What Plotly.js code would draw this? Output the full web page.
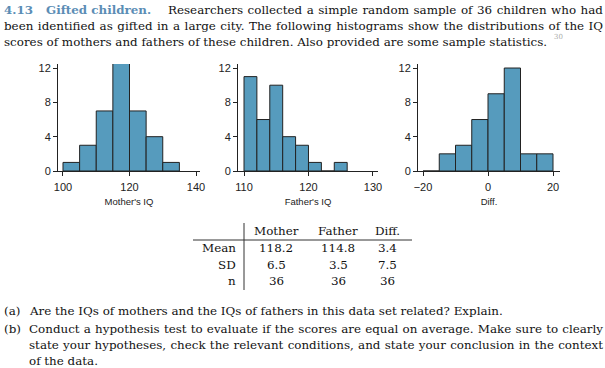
<!DOCTYPE html>
<html><head><meta charset="utf-8">
<script src="https://cdn.plot.ly/plotly-3.0.1.min.js"></script>
<style>html,body{margin:0;padding:0;background:#fff}#chart{width:605px;height:368px}</style>
</head><body><div id="chart"></div>
<script>
// ---- data ----
const motherBinCenters = [102.5, 107.5, 112.5, 117.5, 122.5, 127.5, 132.5];
const motherCounts     = [1, 3, 7, 13, 7, 4, 1];
const fatherBinCenters = [111, 113, 115, 117, 119, 121, 123, 125];
const fatherCounts     = [11, 6, 10, 4, 3, 1, 0, 1];
const diffBinCenters   = [-17.5, -12.5, -7.5, -2.5, 2.5, 7.5, 12.5, 17.5];
const diffCounts       = [0, 2, 3, 6, 9, 12, 2, 2];
const motherTicks = [100, 120, 140];
const fatherTicks = [110, 120, 130];
const diffTicks   = [-20, 0, 20];
const countTicks  = [0, 4, 8, 12];
const axisTitles  = ["Mother's IQ", "Father's IQ", "Diff."];
const tableCols   = ["Mother", "Father", "Diff."];
const tableRows   = ["Mean", "SD", "n"];
const motherStats = ["118.2", "6.5", "36"];
const fatherStats = ["114.8", "3.5", "36"];
const diffStats   = ["3.4", "7.5", "36"];
const headNum   = "4.13";
const headTitle = "Gifted children.";
const introLines = [
  "Researchers collected a simple random sample of 36 children who had",
  "been identified as gifted in a large city. The following histograms show the distributions of the IQ",
  "scores of mothers and fathers of these children. Also provided are some sample statistics."
];
const footnote = "30";
const questionA = ["(a)", "Are the IQs of mothers and the IQs of fathers in this data set related? Explain."];
const questionB = ["(b)",
  "Conduct a hypothesis test to evaluate if the scores are equal on average. Make sure to clearly",
  "state your hypotheses, check the relevant conditions, and state your conclusion in the context",
  "of the data."];

// ---- helpers ----
const W = 605, H = 368;
const px = x => x / W, py = y => 1 - y / H;
const SERIF = 'DejaVu Serif';
const SERIF_SIZE = 11.9;
const SANS = 'Liberation Sans, Arial, sans-serif';
const INK = '#222222';
const BAR = '#569BBD';

const cv = document.createElement('canvas').getContext('2d');
function measure(t, size, bold) {
  cv.font = (bold ? 'bold ' : '') + size + 'px "' + SERIF + '"';
  return cv.measureText(t).width;
}
function justified(t, target) {
  const nat = measure(t, SERIF_SIZE, false);
  const n = (t.match(/ /g) || []).length;
  const ws = n ? (target - nat) / n : 0;
  return '<span style="word-spacing:' + ws.toFixed(2) + 'px">' + t + '</span>';
}
function txt(text, x, y, opts) {
  opts = opts || {};
  return Object.assign({
    text: text, x: px(x), y: py(y), xref: 'paper', yref: 'paper',
    xanchor: 'left', yanchor: 'middle', showarrow: false, borderpad: 0,
    font: {family: SERIF, size: SERIF_SIZE, color: '#111'}
  }, opts);
}

// ---- traces ----
const barStyle = {color: BAR, line: {color: INK, width: 1}};
const traces = [
  {type: 'bar', x: motherBinCenters, y: motherCounts, width: 5, marker: barStyle, xaxis: 'x', yaxis: 'y', hoverinfo: 'none'},
  {type: 'bar', x: fatherBinCenters, y: fatherCounts, width: 2, marker: barStyle, xaxis: 'x2', yaxis: 'y2', hoverinfo: 'none'},
  {type: 'bar', x: diffBinCenters, y: diffCounts, width: 5, marker: barStyle, xaxis: 'x3', yaxis: 'y3', hoverinfo: 'none'}
];

function xAxis(domain, range, ticks, title, anchor) {
  return {
    domain: domain, range: range, anchor: anchor, tickvals: ticks,
    showline: true, linecolor: INK, linewidth: 1, ticks: 'outside', ticklen: 4, tickcolor: INK,
    showgrid: false, zeroline: false, fixedrange: true, ticklabelstandoff: 2,
    tickfont: {family: SANS, size: 11, color: INK},
    title: {text: title, font: {family: SANS, size: 9.5, color: INK}, standoff: 6}
  };
}
function yAxis(anchor) {
  return {
    domain: [py(171), py(64)], range: [0, 12.47], anchor: anchor, tickvals: countTicks,
    showline: true, linecolor: INK, linewidth: 1, ticks: 'outside', ticklen: 4, tickcolor: INK,
    showgrid: false, zeroline: false, fixedrange: true,
    tickfont: {family: SANS, size: 11, color: INK}
  };
}

// ---- annotations ----
const ann = [];
ann.push(txt('<b>' + headNum + '</b>', 3, 10, {font: {family: SERIF, size: SERIF_SIZE, color: '#5b8db5'}}));
ann.push(txt('<b>' + headTitle + '</b>', 45, 10, {font: {family: SERIF, size: SERIF_SIZE, color: '#5b8db5'}}));
ann.push(txt(justified(introLines[0], 602 - 167), 167, 10));
ann.push(txt(justified(introLines[1], 602 - 3), 3, 26));
ann.push(txt(introLines[2], 3, 42));
ann.push(txt(footnote, 553, 37, {font: {family: SERIF, size: 7, color: '#aaaaaa'}}));

// table
const colX = [276, 338, 388];
const rowY = [248, 265, 281];
const stats = [motherStats, fatherStats, diffStats];
tableCols.forEach((c, i) => ann.push(txt(c, colX[i], 231, {xanchor: 'center'})));
tableRows.forEach((r, j) => {
  ann.push(txt(r, 237, rowY[j], {xanchor: 'right'}));
  stats.forEach((col, i) => ann.push(txt(col[j], colX[i], rowY[j], {xanchor: 'center'})));
});

// questions
ann.push(txt(questionA[0], 3, 311));
ann.push(txt(questionA[1], 28, 311));
ann.push(txt(questionB[0], 3, 329));
ann.push(txt(justified(questionB[1], 602 - 28), 28, 329));
ann.push(txt(justified(questionB[2], 602 - 28), 28, 345));
ann.push(txt(questionB[3], 28, 361));

const shapes = [
  {type: 'line', xref: 'paper', yref: 'paper', x0: px(193), x1: px(412), y0: py(240), y1: py(240), line: {color: '#333', width: 1}},
  {type: 'line', xref: 'paper', yref: 'paper', x0: px(244), x1: px(244), y0: py(223), y1: py(290), line: {color: '#333', width: 1}}
];

const layout = {
  width: W, height: H, margin: {l: 0, r: 0, t: 0, b: 0},
  paper_bgcolor: '#fff', plot_bgcolor: '#fff', showlegend: false, bargap: 0,
  xaxis:  xAxis([px(58), px(200)], [98.5, 141.2], motherTicks, axisTitles[0], 'y'),
  xaxis2: xAxis([px(238), px(378)], [109.07, 130.78], fatherTicks, axisTitles[1], 'y2'),
  xaxis3: xAxis([px(418), px(560)], [-21.54, 22.15], diffTicks, axisTitles[2], 'y3'),
  yaxis: yAxis('x'), yaxis2: yAxis('x2'), yaxis3: yAxis('x3'),
  annotations: ann, shapes: shapes
};
Plotly.newPlot('chart', traces, layout, {staticPlot: true, displayModeBar: false});
</script>
</body></html>
